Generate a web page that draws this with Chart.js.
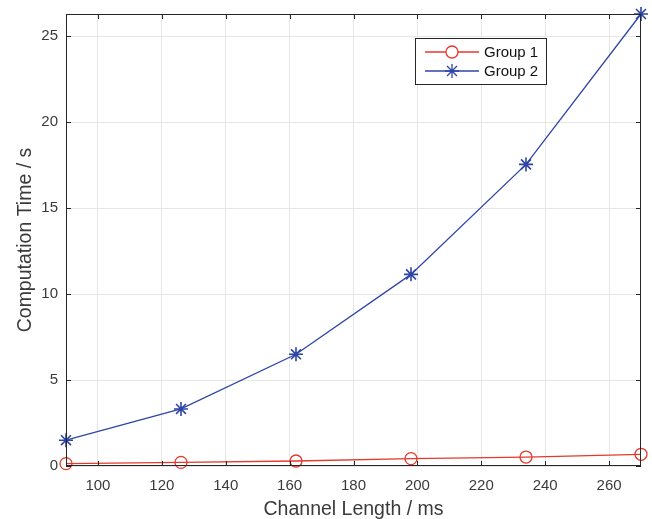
<!DOCTYPE html>
<html>
<head>
<meta charset="utf-8">
<script src="https://cdn.jsdelivr.net/npm/chart.js@4.4.1/dist/chart.umd.min.js"></script>
<style>
    html, body { margin: 0; padding: 0; background: #fff; }
    #wrap { width: 652px; height: 519px; }
</style>
</head>
<body>
<div id="wrap"><canvas id="chart" width="652" height="519"></canvas></div>
<script>
// Channel length (ms) on the x axis
const channelLength = [90, 126, 162, 198, 234, 270];
const group1 = [0.14, 0.21, 0.29, 0.43, 0.52, 0.68];
const group2 = [1.5, 3.32, 6.5, 11.15, 17.55, 26.3];
const xTicks = [100, 120, 140, 160, 180, 200, 220, 240, 260];
const yTicks = [0, 5, 10, 15, 20, 25];

const red = '#e5392c';
const blue = '#2f45a6';
const axisColor = '#262626';
const labelColor = '#3a3a3a';
const fontFamily = '"Liberation Sans", Arial, Helvetica, sans-serif';

// Box around the axes with inward ticks, like the original figure
const boxPlugin = {
    id: 'box',
    afterDraw(chart) {
        const { ctx, chartArea: a, scales } = chart;
        const len = 5;
        ctx.save();
        ctx.strokeStyle = axisColor;
        ctx.lineWidth = 1;
        ctx.strokeRect(a.left + 0.5, a.top + 0.5, a.right - a.left - 1, a.bottom - a.top - 1);
        ctx.beginPath();
        xTicks.forEach(v => {
            const x = Math.round(scales.x.getPixelForValue(v)) + 0.5;
            ctx.moveTo(x, a.bottom); ctx.lineTo(x, a.bottom - len);
            ctx.moveTo(x, a.top); ctx.lineTo(x, a.top + len);
        });
        yTicks.forEach(v => {
            const y = Math.round(scales.y.getPixelForValue(v)) + 0.5;
            ctx.moveTo(a.left, y); ctx.lineTo(a.left + len, y);
            ctx.moveTo(a.right, y); ctx.lineTo(a.right - len, y);
        });
        ctx.stroke();
        ctx.restore();
    }
};

// Legend box drawn inside the plot, upper right
const legendPlugin = {
    id: 'boxLegend',
    afterDraw(chart) {
        const { ctx } = chart;
        const left = 415, top = 38, w = 131, h = 46;
        ctx.save();
        ctx.fillStyle = '#fff';
        ctx.fillRect(left, top, w, h);
        ctx.strokeStyle = axisColor;
        ctx.lineWidth = 1;
        ctx.strokeRect(left + 0.5, top + 0.5, w, h);
        chart.data.datasets.forEach((ds, i) => {
            const y = top + 14 + i * 19;
            ctx.strokeStyle = ds.borderColor;
            ctx.lineWidth = 1.3;
            ctx.beginPath();
            ctx.moveTo(left + 10, y);
            ctx.lineTo(left + 64, y);
            ctx.stroke();
            Chart.helpers.drawPoint(ctx, {
                pointStyle: ds.pointStyle,
                radius: ds.pointRadius,
                borderWidth: ds.pointBorderWidth || 1.3
            }, left + 37, y);
            ctx.fillStyle = '#111';
            ctx.font = '15px ' + fontFamily;
            ctx.textBaseline = 'middle';
            ctx.fillText(ds.label, left + 69, y + 1);
        });
        ctx.restore();
    }
};

new Chart(document.getElementById('chart'), {
    type: 'line',
    data: {
        datasets: [
            {
                label: 'Group 1',
                data: channelLength.map((x, i) => ({ x: x, y: group1[i] })),
                borderColor: red,
                backgroundColor: 'rgba(0,0,0,0)',
                borderWidth: 1.3,
                pointStyle: 'circle',
                pointRadius: 6,
                pointBorderWidth: 1.3,
                pointBorderColor: red,
                pointBackgroundColor: 'rgba(0,0,0,0)',
                tension: 0
            },
            {
                label: 'Group 2',
                data: channelLength.map((x, i) => ({ x: x, y: group2[i] })),
                borderColor: blue,
                backgroundColor: 'rgba(0,0,0,0)',
                borderWidth: 1.3,
                pointStyle: 'star',
                pointRadius: 7,
                pointBorderWidth: 1.6,
                pointBorderColor: blue,
                pointBackgroundColor: blue,
                tension: 0
            }
        ]
    },
    options: {
        responsive: false,
        animation: false,
        clip: false,
        layout: { padding: { top: 14, right: 11, left: 0, bottom: 0 } },
        plugins: {
            legend: { display: false },
            tooltip: { enabled: false }
        },
        scales: {
            x: {
                type: 'linear',
                min: 90,
                max: 270,
                afterBuildTicks: scale => { scale.ticks = xTicks.map(v => ({ value: v })); },
                afterFit: scale => { scale.height = 53; },
                grid: { color: '#e6e6e6', drawTicks: false },
                border: { display: false },
                ticks: {
                    color: labelColor,
                    padding: 11,
                    font: { family: fontFamily, size: 15 }
                },
                title: {
                    display: true,
                    text: 'Channel Length / ms',
                    color: labelColor,
                    padding: { top: 0, bottom: -2 },
                    font: { family: fontFamily, size: 19.5 }
                }
            },
            y: {
                min: 0,
                max: 26.3,
                afterBuildTicks: scale => { scale.ticks = yTicks.map(v => ({ value: v })); },
                afterFit: scale => {
                    scale.width = 66;
                    scale.paddingTop = 0;
                    scale.paddingBottom = 0;
                },
                grid: { color: '#e6e6e6', drawTicks: false },
                border: { display: false },
                ticks: {
                    color: labelColor,
                    padding: 8,
                    font: { family: fontFamily, size: 15 }
                },
                title: {
                    display: true,
                    text: 'Computation Time / s',
                    color: labelColor,
                    padding: { top: 14, bottom: 0 },
                    font: { family: fontFamily, size: 19.5 }
                }
            }
        }
    },
    plugins: [boxPlugin, legendPlugin]
});
</script>
</body>
</html>
